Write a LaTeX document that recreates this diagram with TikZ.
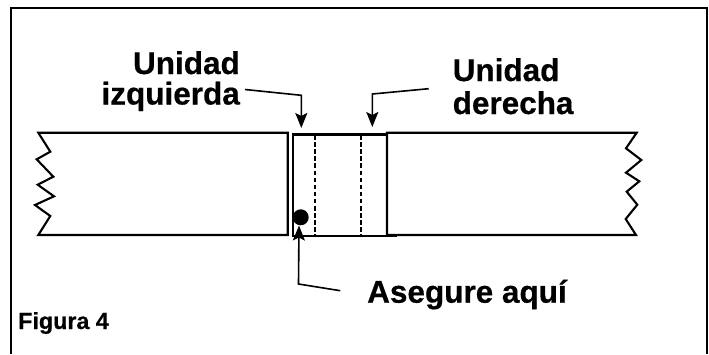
\documentclass[tikz,border=0pt]{standalone}
\usepackage{fontspec}
\setmainfont[BoldFeatures={FakeBold=0.5}]{Liberation Sans}
\usetikzlibrary{arrows.meta}
\tikzset{
  x=1pt,y=-1pt,
  outline/.style={line width=2.1pt,line join=miter,black},
  frameline/.style={line width=1.5pt,black},
  hidden/.style={line width=2.2pt,black,dash pattern=on 4.5pt off 2.6pt},
  pointer/.style={line width=1.6pt,black,line join=miter,-{Stealth[length=15pt,width=12pt,inset=3pt]}},
  biglabel/.style={inner sep=0pt,font=\fontsize{31.5}{31.5}\selectfont\bfseries},
  smalllabel/.style={inner sep=0pt,font=\fontsize{23.3}{23.3}\selectfont\bfseries},
  dot/.style={circle,fill=black,inner sep=0pt,minimum size=16pt}
}
\begin{document}
\begin{tikzpicture}
\useasboundingbox (0,0) rectangle (709,354);
% frame (open at the bottom)
\draw[frameline] (11,354) -- (11,8) -- (707,8) -- (707,354);
% left panel
\draw[outline] (287.7,132.7) -- (38.3,132.7) -- (50.3,151.7) -- (36.7,159.3) -- (53.3,176.7) -- (37.7,184.7) -- (54,196.3) -- (35,205) -- (50.3,216) -- (38.3,235) -- (287.7,235) -- cycle;
% right panel
\draw[outline] (387,235) -- (387,132.7) -- (636.7,132.7) -- (626,148.3) -- (641.3,160) -- (626,172.7) -- (639.3,181.3) -- (626.7,191.7) -- (637.3,204.7) -- (625.7,219) -- (636,235) -- cycle;
% centre unit
\draw[outline] (293,134.5) rectangle (386.7,236.3);
\draw[outline] (386.7,236.3) -- (396.7,236.3);
\draw[hidden] (315,135) -- (315,236);
\draw[hidden] (361,135) -- (361,236);
\node[dot] (fix) at (300.7,217.3) {};
% labels
\node[biglabel,anchor=base east] (u1) at (240,74) {Unidad};
\node[biglabel,anchor=base east] (izq) at (240,104.5) {izquierda};
\node[biglabel,anchor=base west] (u2) at (452.5,81) {Unidad};
\node[biglabel,anchor=base west] (der) at (452.5,114) {derecha};
\node[biglabel,anchor=base west] (ase) at (367,302.7) {Asegure aquí};
\node[smalllabel,anchor=base west] (fig) at (18,329) {Figura 4};
% pointers
\coordinate (p1) at (245,89.5);
\coordinate (t1) at (301.3,128);
\coordinate (p2) at (428.7,88.7);
\coordinate (t2) at (372.3,127);
\coordinate (p3) at (340.3,290.7);
\coordinate (t3) at (299,225.5);
\draw[pointer] (p1) -- (301.3,95.3) -- (t1);
\draw[pointer] (p2) -- (372.3,94) -- (t2);
\draw[pointer] (p3) -- (298.5,284) -- (t3);
\end{tikzpicture}
\end{document}
